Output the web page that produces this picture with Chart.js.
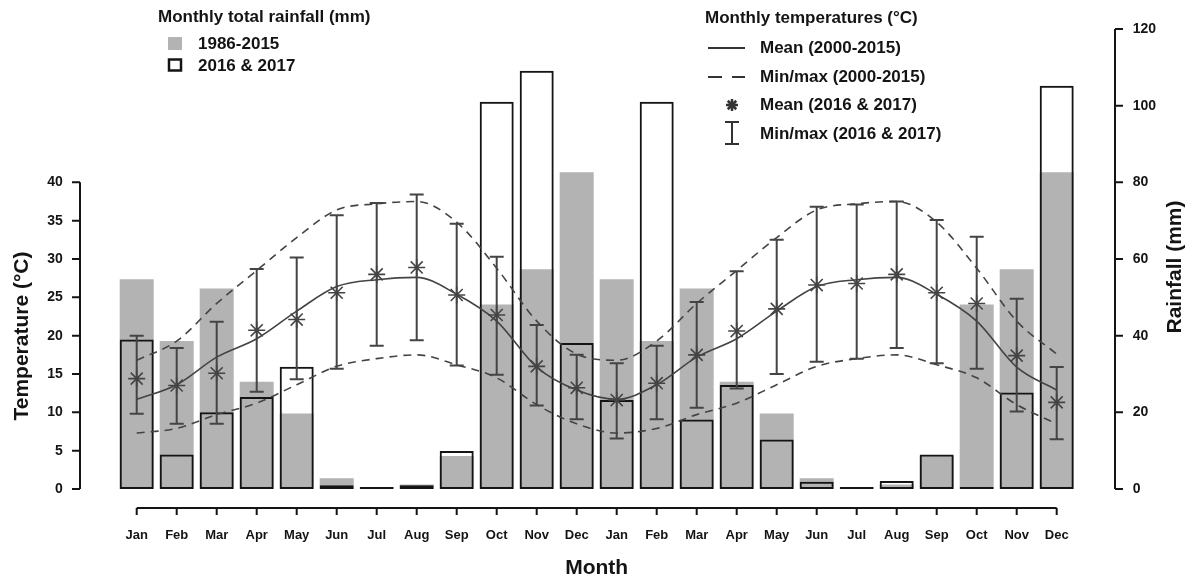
<!DOCTYPE html>
<html>
<head>
<meta charset="utf-8">
<script src="https://cdn.jsdelivr.net/npm/chart.js@4.4.1/dist/chart.umd.min.js"></script>
<style>
  body { margin: 0; background: #fff; }
  canvas { display: block; }
</style>
</head>
<body>
<canvas id="climateChart" width="1192" height="580"></canvas>
<script>
// month axis (two years side by side)
const months = ['Jan', 'Feb', 'Mar', 'Apr', 'May', 'Jun', 'Jul', 'Aug', 'Sep', 'Oct', 'Nov', 'Dec'];
const monthLabels = months.concat(months);

// rainfall (mm)
const rainClimate = [54.7, 38.6, 52.3, 28.0, 19.7, 2.8, 0, 1.2, 8.6, 48.1, 57.3, 82.6];
const rainObserved = [39.0, 9.0, 20.0, 24.0, 31.9, 1.0, 0, 1.0, 9.9, 101.0, 109.1, 38.1,
                      23.2, 101.0, 18.1, 27.1, 12.9, 1.9, 0, 2.1, 9.0, 0, 25.2, 105.2];

// temperatures 2000-2015 (climatology, deg C)
const tempMeanClim = [11.7, 13.6, 17.2, 19.6, 23.2, 26.4, 27.3, 27.6, 25.4, 21.9, 15.9, 12.9];
const tempMaxClim = [16.8, 19.3, 24.2, 28.5, 32.8, 36.4, 37.2, 37.5, 34.8, 28.8, 21.9, 17.6];
const tempMinClim = [7.3, 7.9, 9.7, 11.2, 13.6, 16.0, 17.0, 17.5, 16.2, 14.5, 11.0, 8.5];

// temperatures 2016 & 2017
const obsMean = [14.4, 13.5, 15.1, 20.7, 22.1, 25.6, 28.0, 28.9, 25.3, 22.7, 16.0, 13.2,
                 11.6, 13.8, 17.5, 20.6, 23.5, 26.6, 26.8, 28.0, 25.6, 24.2, 17.4, 11.3];
const obsMax = [20.0, 18.4, 21.8, 28.7, 30.2, 35.7, 37.3, 38.4, 34.6, 30.3, 21.4, 17.5,
                16.4, 18.7, 24.4, 28.4, 32.5, 36.8, 37.1, 37.5, 35.1, 32.9, 24.8, 15.9];
const obsMin = [9.8, 8.5, 8.5, 12.7, 14.3, 15.7, 18.7, 19.4, 16.1, 14.9, 10.9, 9.1,
                6.6, 9.1, 10.6, 13.1, 15.0, 16.6, 17.0, 18.4, 16.4, 15.7, 10.1, 6.5];

const tempTicks = [0, 5, 10, 15, 20, 25, 30, 35, 40];
const rainTicks = [0, 20, 40, 60, 80, 100, 120];

const ink = '#141414';
const lineGrey = '#444444';
const barGrey = '#b3b3b3';
const fontFamily = "'Liberation Sans', Arial, sans-serif";

const errorBars = {
    id: 'errorBars',
    afterDatasetsDraw(chart) {
        const ctx = chart.ctx;
        const x = chart.scales.x;
        const y = chart.scales.yT;
        ctx.save();
        ctx.strokeStyle = lineGrey;
        ctx.lineWidth = 2;
        obsMean.forEach((v, i) => {
            const px = x.getPixelForValue(i);
            const top = y.getPixelForValue(obsMax[i]);
            const bot = y.getPixelForValue(obsMin[i]);
            ctx.beginPath();
            ctx.moveTo(px, top);
            ctx.lineTo(px, bot);
            ctx.moveTo(px - 7, top);
            ctx.lineTo(px + 7, top);
            ctx.moveTo(px - 7, bot);
            ctx.lineTo(px + 7, bot);
            ctx.stroke();
        });
        ctx.restore();
    }
};

const decor = {
    id: 'decor',
    afterDraw(chart) {
        const ctx = chart.ctx;
        const x = chart.scales.x;
        const yT = chart.scales.yT;
        const yR = chart.scales.yR;
        ctx.save();
        ctx.strokeStyle = ink;
        ctx.lineWidth = 2;
        // R style detached axes
        ctx.beginPath();
        const lx = 80;
        ctx.moveTo(lx, yT.getPixelForValue(0));
        ctx.lineTo(lx, yT.getPixelForValue(40));
        tempTicks.forEach(v => {
            const p = yT.getPixelForValue(v);
            ctx.moveTo(lx, p);
            ctx.lineTo(lx - 8, p);
        });
        const rx = 1115;
        ctx.moveTo(rx, yR.getPixelForValue(0));
        ctx.lineTo(rx, yR.getPixelForValue(120));
        rainTicks.forEach(v => {
            const p = yR.getPixelForValue(v);
            ctx.moveTo(rx, p);
            ctx.lineTo(rx + 8, p);
        });
        const by = 508;
        ctx.moveTo(x.getPixelForValue(0), by);
        ctx.lineTo(x.getPixelForValue(monthLabels.length - 1), by);
        monthLabels.forEach((m, i) => {
            const p = x.getPixelForValue(i);
            ctx.moveTo(p, by);
            ctx.lineTo(p, by + 7);
        });
        ctx.stroke();

        // axis titles
        ctx.fillStyle = ink;
        ctx.font = 'bold 21px ' + fontFamily;
        ctx.textAlign = 'center';
        ctx.textBaseline = 'middle';
        ctx.fillText('Month', (chart.chartArea.left + chart.chartArea.right) / 2, 568);
        ctx.save();
        ctx.translate(22, 336);
        ctx.rotate(-Math.PI / 2);
        ctx.fillText('Temperature (°C)', 0, 0);
        ctx.restore();
        ctx.save();
        ctx.translate(1175, 267);
        ctx.rotate(-Math.PI / 2);
        ctx.fillText('Rainfall (mm)', 0, 0);
        ctx.restore();

        // legends
        ctx.textAlign = 'left';
        ctx.font = 'bold 17px ' + fontFamily;
        ctx.fillText('Monthly total rainfall (mm)', 158, 17);
        ctx.fillText('1986-2015', 198, 44);
        ctx.fillText('2016 & 2017', 198, 66);
        ctx.fillStyle = barGrey;
        ctx.fillRect(168, 37, 14, 13);
        ctx.lineWidth = 2.5;
        ctx.strokeRect(169, 59.5, 12, 11);

        ctx.fillStyle = ink;
        ctx.fillText('Monthly temperatures (°C)', 705, 18);
        ctx.fillText('Mean (2000-2015)', 760, 48);
        ctx.fillText('Min/max (2000-2015)', 760, 77);
        ctx.fillText('Mean (2016 & 2017)', 760, 105);
        ctx.fillText('Min/max (2016 & 2017)', 760, 134);

        ctx.strokeStyle = '#333';
        ctx.lineWidth = 2;
        ctx.beginPath();
        ctx.moveTo(708, 48);
        ctx.lineTo(745, 48);
        ctx.moveTo(708, 77);
        ctx.lineTo(722, 77);
        ctx.moveTo(732, 77);
        ctx.lineTo(745, 77);
        // error bar glyph
        ctx.moveTo(732, 122);
        ctx.lineTo(732, 144);
        ctx.moveTo(725, 122);
        ctx.lineTo(739, 122);
        ctx.moveTo(725, 144);
        ctx.lineTo(739, 144);
        ctx.stroke();
        // asterisk glyph
        ctx.lineWidth = 2.5;
        ctx.beginPath();
        const ax = 732, ay = 105, r = 6;
        for (let k = 0; k < 4; k++) {
            const a = k * Math.PI / 4;
            ctx.moveTo(ax - r * Math.cos(a), ay - r * Math.sin(a));
            ctx.lineTo(ax + r * Math.cos(a), ay + r * Math.sin(a));
        }
        ctx.stroke();
        ctx.restore();
    }
};

const repeatTwice = arr => arr.concat(arr);

// keep the big label padding from pushing the plot area down
function fixScaleBox(s, width) {
    s.width = width;
    s.paddingTop = 8;
    s.paddingBottom = 8;
}

const ctx = document.getElementById('climateChart');
new Chart(ctx, {
    data: {
        labels: monthLabels,
        datasets: [
            {
                type: 'bar',
                data: repeatTwice(rainClimate),
                yAxisID: 'yR',
                backgroundColor: barGrey,
                borderWidth: 0,
                grouped: false,
                barPercentage: 0.85,
                categoryPercentage: 1,
                order: 6
            },
            {
                type: 'bar',
                data: rainObserved,
                yAxisID: 'yR',
                backgroundColor: 'rgba(0,0,0,0)',
                borderColor: ink,
                borderWidth: 2,
                borderSkipped: false,
                minBarLength: 2,
                grouped: false,
                barPercentage: 0.85,
                categoryPercentage: 1,
                order: 5
            },
            {
                type: 'line',
                data: repeatTwice(tempMaxClim),
                yAxisID: 'yT',
                borderColor: lineGrey,
                borderWidth: 1.6,
                borderDash: [8, 6],
                pointRadius: 0,
                cubicInterpolationMode: 'monotone',
                order: 3
            },
            {
                type: 'line',
                data: repeatTwice(tempMinClim),
                yAxisID: 'yT',
                borderColor: lineGrey,
                borderWidth: 1.6,
                borderDash: [8, 6],
                pointRadius: 0,
                cubicInterpolationMode: 'monotone',
                order: 3
            },
            {
                type: 'line',
                data: repeatTwice(tempMeanClim),
                yAxisID: 'yT',
                borderColor: lineGrey,
                borderWidth: 1.6,
                pointRadius: 0,
                cubicInterpolationMode: 'monotone',
                order: 2
            },
            {
                type: 'line',
                data: obsMean,
                yAxisID: 'yT',
                showLine: false,
                pointStyle: 'star',
                pointRadius: 8.5,
                pointBorderWidth: 1.6,
                pointBorderColor: lineGrey,
                pointBackgroundColor: lineGrey,
                order: 1
            }
        ]
    },
    options: {
        responsive: false,
        animation: false,
        devicePixelRatio: 1,
        layout: { padding: { top: 29, left: 0, right: 0, bottom: 0 } },
        plugins: {
            legend: { display: false },
            tooltip: { enabled: false }
        },
        scales: {
            x: {
                type: 'category',
                offset: true,
                grid: { display: false, drawTicks: false },
                border: { display: false },
                ticks: {
                    color: ink,
                    padding: 39,
                    maxRotation: 0,
                    autoSkip: false,
                    font: { family: fontFamily, size: 13, weight: 'bold' }
                },
                afterFit: s => {
                    s.height = 91;
                    s.paddingLeft = 0;
                    s.paddingRight = 0;
                }
            },
            yT: {
                type: 'linear',
                position: 'left',
                min: 0,
                max: 60,
                grid: { display: false, drawTicks: false },
                border: { display: false },
                ticks: {
                    color: ink,
                    padding: 54,
                    font: { family: fontFamily, size: 14, weight: 'bold' }
                },
                afterBuildTicks: s => { s.ticks = tempTicks.map(v => ({ value: v })); },
                afterFit: s => fixScaleBox(s, 116.7)
            },
            yR: {
                type: 'linear',
                position: 'right',
                min: 0,
                max: 120,
                grid: { display: false, drawTicks: false },
                border: { display: false },
                ticks: {
                    color: ink,
                    padding: 56,
                    font: { family: fontFamily, size: 14, weight: 'bold' }
                },
                afterBuildTicks: s => { s.ticks = rainTicks.map(v => ({ value: v })); },
                afterFit: s => fixScaleBox(s, 115.3)
            }
        }
    },
    plugins: [errorBars, decor]
});
</script>
</body>
</html>
